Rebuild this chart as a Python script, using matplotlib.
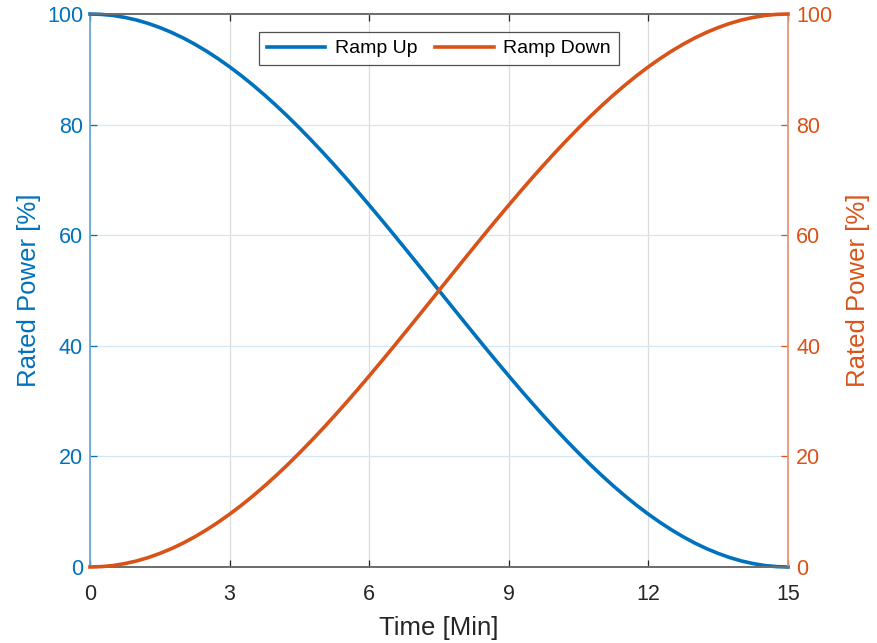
import matplotlib
matplotlib.use("Agg")
import matplotlib.pyplot as plt

time_min = [0, 0.25, 0.5, 0.75, 1, 1.25, 1.5, 1.75, 2, 2.25, 2.5, 2.75, 3, 3.25, 3.5, 3.75,
            4, 4.25, 4.5, 4.75, 5, 5.25, 5.5, 5.75, 6, 6.25, 6.5, 6.75, 7, 7.25, 7.5,
            7.75, 8, 8.25, 8.5, 8.75, 9, 9.25, 9.5, 9.75, 10, 10.25, 10.5, 10.75, 11,
            11.25, 11.5, 11.75, 12, 12.25, 12.5, 12.75, 13, 13.25, 13.5, 13.75, 14,
            14.25, 14.5, 14.75, 15]
ramp_up = [100.0, 99.93, 99.73, 99.38, 98.91, 98.30, 97.55, 96.68, 95.68, 94.55,
           93.30, 91.93, 90.45, 88.86, 87.16, 85.36, 83.46, 81.47, 79.39, 77.23,
           75.00, 72.70, 70.34, 67.92, 65.45, 62.94, 60.40, 57.82, 55.23, 52.62,
           50.00, 47.38, 44.77, 42.18, 39.60, 37.06, 34.55, 32.08, 29.66, 27.30,
           25.00, 22.77, 20.61, 18.53, 16.54, 14.64, 12.84, 11.14, 9.55, 8.07,
           6.70, 5.45, 4.32, 3.32, 2.45, 1.70, 1.09, 0.62, 0.27, 0.07, 0.0]
ramp_down = [0.0, 0.07, 0.27, 0.62, 1.09, 1.70, 2.45, 3.32, 4.32, 5.45,
             6.70, 8.07, 9.55, 11.14, 12.84, 14.64, 16.54, 18.53, 20.61, 22.77,
             25.00, 27.30, 29.66, 32.08, 34.55, 37.06, 39.60, 42.18, 44.77, 47.38,
             50.00, 52.62, 55.23, 57.82, 60.40, 62.94, 65.45, 67.92, 70.34, 72.70,
             75.00, 77.23, 79.39, 81.47, 83.46, 85.36, 87.16, 88.86, 90.45, 91.93,
             93.30, 94.55, 95.68, 96.68, 97.55, 98.30, 98.91, 99.38, 99.73, 99.93, 100.0]
x_ticks = [0, 3, 6, 9, 12, 15]
y_ticks = [0, 20, 40, 60, 80, 100]

BLUE = "#0072BD"
ORANGE = "#D95319"
DARK = "#262626"

plt.rcParams['font.family'] = ['Liberation Sans', 'DejaVu Sans']

fig = plt.figure(figsize=(8.77, 6.43), dpi=100)
ax = fig.add_axes([90/877, 1-567/643, (788-90)/877, (567-14)/643])
ax2 = ax.twinx()

l1, = ax.plot(time_min, ramp_up, color=BLUE, lw=2.6, label="Ramp Up", clip_on=False, zorder=3)
l2, = ax2.plot(time_min, ramp_down, color=ORANGE, lw=2.6, label="Ramp Down", clip_on=False, zorder=3)

for a in (ax, ax2):
    a.set_xlim(0, 15)
    a.set_ylim(0, 100)
    a.set_yticks(y_ticks)
ax.set_xticks(x_ticks)

ax.grid(True, axis='x', color='#dcdcdc', lw=0.9)
ax.grid(True, axis='y', color='#d4e6f4', lw=0.9)
ax.set_axisbelow(True)

ax.tick_params(axis='x', direction='in', length=5, top=True, colors=DARK, labelsize=15.5, pad=12, width=0.9)
ax.tick_params(axis='y', direction='in', length=5, colors=BLUE, labelsize=15.5, pad=5, width=0.9)
ax2.tick_params(axis='y', direction='in', length=5, colors=ORANGE, labelsize=15.5, pad=6, width=0.9)
ax2.tick_params(axis='x', top=False, bottom=False)

for a in (ax, ax2):
    a.spines['top'].set_color('#6e6e6e')
    a.spines['bottom'].set_color('#6e6e6e')
    a.spines['left'].set_color('#6aaad8')
    a.spines['right'].set_color('#e8957a')
    for s in a.spines.values():
        s.set_linewidth(1.3)
ax2.spines['left'].set_visible(False)
ax.spines['right'].set_visible(False)

ax.set_xlabel("Time [Min]", fontsize=18.5, color=DARK, labelpad=8)
ax.set_ylabel("Rated Power [%]", fontsize=18.5, color=BLUE, labelpad=4)
ax2.set_ylabel("Rated Power [%]", fontsize=18.5, color=ORANGE, labelpad=10)

leg = ax2.legend([l1, l2], ["Ramp Up", "Ramp Down"], loc='upper center',
                 bbox_to_anchor=(0.5, 0.985), ncol=2, fontsize=14, frameon=True,
                 fancybox=False, edgecolor=DARK, handlelength=3.0,
                 columnspacing=0.9, handletextpad=0.5, borderpad=0.4)
leg.get_frame().set_linewidth(0.9)

fig.savefig("out.png", dpi=100)
